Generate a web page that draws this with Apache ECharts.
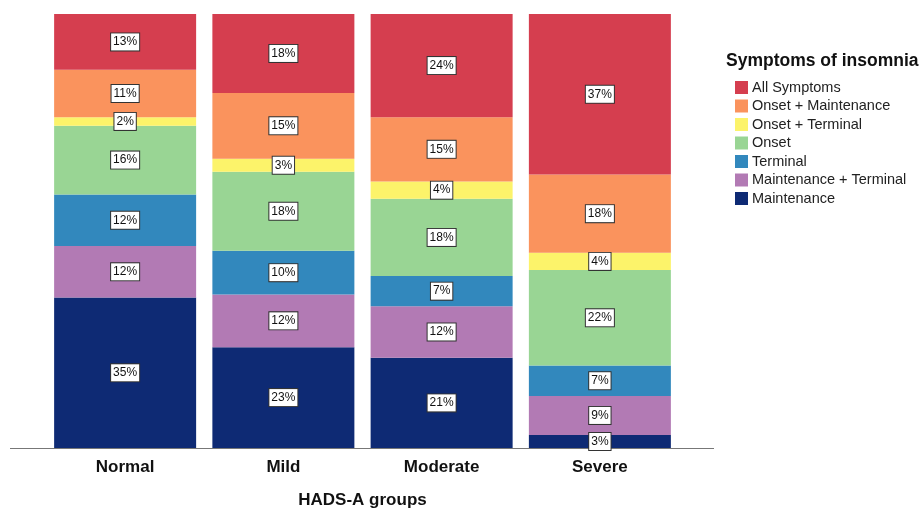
<!DOCTYPE html>
<html>
<head>
<meta charset="utf-8">
<script src="https://cdn.jsdelivr.net/npm/echarts@6/dist/echarts.min.js"></script>
<style>
  html, body { margin: 0; padding: 0; background: #fff; }
  #chart { width: 922px; height: 510px; }
</style>
</head>
<body>
<div id="chart"></div>
<script>
const groups = ['Normal', 'Mild', 'Moderate', 'Severe'];

// percent labels as printed in each segment (bottom to top)
const maintenance = [35, 23, 21, 3];
const maintTerminal = [12, 12, 12, 9];
const terminal = [12, 10, 7, 7];
const onset = [16, 18, 18, 22];
const onsetTerminal = [2, 3, 4, 4];
const onsetMaint = [11, 15, 15, 18];
const allSymptoms = [13, 18, 24, 37];

const seriesDefs = [
  { name: 'Maintenance', data: maintenance, color: '#0e2a74' },
  { name: 'Maintenance + Terminal', data: maintTerminal, color: '#b27ab4' },
  { name: 'Terminal', data: terminal, color: '#3288bd' },
  { name: 'Onset', data: onset, color: '#99d594' },
  { name: 'Onset + Terminal', data: onsetTerminal, color: '#fcf36a' },
  { name: 'Onset + Maintenance', data: onsetMaint, color: '#fa935d' },
  { name: 'All Symptoms', data: allSymptoms, color: '#d53e4f' },
];

// rounded labels don't always add to 100, so scale each column to fill the bar
const totals = groups.map((_, i) => seriesDefs.reduce((s, d) => s + d.data[i], 0));

const chart = echarts.init(document.getElementById('chart'), null, { renderer: 'canvas' });

const font = 'Liberation Sans, Arial, sans-serif';

chart.setOption({
  animation: false,
  textStyle: { fontFamily: font },
  title: {
    text: 'Symptoms of insomnia',
    left: 721,
    top: 47,
    textStyle: { fontSize: 17.5, fontWeight: 'bold', color: '#111', fontFamily: font },
  },
  legend: {
    orient: 'vertical',
    left: 730,
    top: 75,
    itemWidth: 13,
    itemHeight: 13,
    itemGap: 3.5,
    icon: 'rect',
    data: seriesDefs.map(d => d.name).reverse(),
    textStyle: { fontSize: 14.5, color: '#222', fontFamily: font, padding: [0, 0, 0, -1] },
  },
  grid: { left: 46, right: 243, top: 14, bottom: 62, outerBoundsMode: 'none' },
  xAxis: {
    type: 'category',
    data: groups,
    axisLine: { show: false },
    axisTick: { show: false },
    axisLabel: { fontSize: 17, fontWeight: 'bold', color: '#111', margin: 11, fontFamily: font },
    name: 'HADS-A groups',
    nameLocation: 'middle',
    nameGap: 44,
    nameTextStyle: { fontSize: 17, fontWeight: 'bold', color: '#111', fontFamily: font },
  },
  yAxis: {
    type: 'value',
    min: 0,
    max: 100,
    show: false,
  },
  graphic: [{
    type: 'line',
    shape: { x1: 10, y1: 448.5, x2: 714, y2: 448.5 },
    style: { stroke: '#777', lineWidth: 1 },
  }],
  series: seriesDefs.map(d => ({
    name: d.name,
    type: 'bar',
    stack: 'total',
    barWidth: 142,
    itemStyle: { color: d.color },
    data: d.data.map((v, i) => ({ value: v / totals[i] * 100, label: { formatter: v + '%' } })),
    label: {
      show: true,
      position: 'inside',
      color: '#111',
      fontSize: 12,
      fontFamily: font,
      backgroundColor: '#fff',
      borderColor: '#333',
      borderWidth: 1,
      padding: [3, 2, 2, 2],
    },
  })),
});
</script>
</body>
</html>
